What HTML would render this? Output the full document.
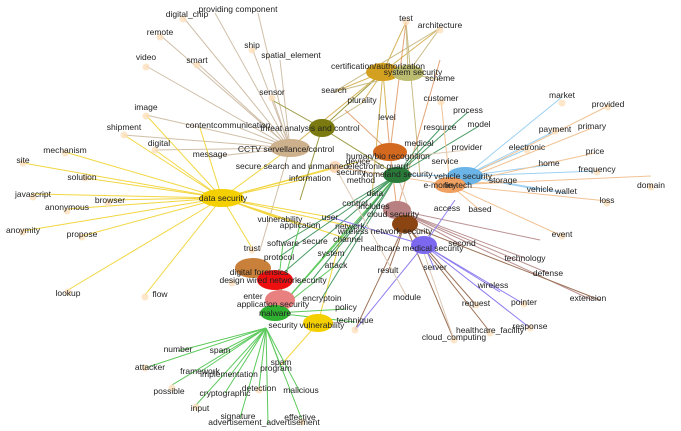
<!DOCTYPE html>
<html><head><meta charset="utf-8"><style>
html,body{margin:0;padding:0;background:#fff;width:681px;height:431px;overflow:hidden}
svg text{font-family:"Liberation Sans",sans-serif;font-size:8.5px;fill:#222;text-anchor:middle}
</style></head><body>
<svg width="681" height="431" viewBox="0 0 681 431" xmlns="http://www.w3.org/2000/svg">
<g stroke-width="1" fill="none" opacity="0.85">
<!-- CCTV edges -->
<g stroke="#c8b49a">
<line x1="290" y1="148" x2="183" y2="17"/><line x1="290" y1="148" x2="215" y2="13"/><line x1="290" y1="148" x2="258" y2="13"/>
<line x1="290" y1="148" x2="160" y2="35"/><line x1="290" y1="148" x2="252" y2="48"/><line x1="290" y1="148" x2="146" y2="66"/>
<line x1="290" y1="148" x2="197" y2="63"/><line x1="290" y1="148" x2="146" y2="115"/><line x1="290" y1="148" x2="124" y2="135"/>
<line x1="290" y1="148" x2="155" y2="150"/><line x1="290" y1="148" x2="240" y2="128"/><line x1="290" y1="148" x2="210" y2="157"/>
<line x1="290" y1="148" x2="272" y2="96"/><line x1="290" y1="148" x2="280" y2="60"/><line x1="290" y1="148" x2="260" y2="250"/>
</g>
<!-- data security edges -->
<g stroke="#f0d020">
<line x1="222" y1="198" x2="146" y2="115"/><line x1="222" y1="198" x2="124" y2="135"/><line x1="222" y1="198" x2="155" y2="150"/>
<line x1="222" y1="198" x2="65" y2="152"/><line x1="222" y1="198" x2="23" y2="163"/><line x1="222" y1="198" x2="85" y2="178"/>
<line x1="222" y1="198" x2="33" y2="194"/><line x1="222" y1="198" x2="108" y2="200"/><line x1="222" y1="198" x2="67" y2="209"/>
<line x1="222" y1="198" x2="23" y2="231"/><line x1="222" y1="198" x2="82" y2="236"/><line x1="222" y1="198" x2="68" y2="290"/>
<line x1="222" y1="198" x2="145" y2="295"/><line x1="222" y1="198" x2="200" y2="128"/><line x1="222" y1="198" x2="310" y2="178"/>
<line x1="222" y1="198" x2="335" y2="167"/><line x1="222" y1="198" x2="280" y2="219"/><line x1="222" y1="198" x2="300" y2="225"/>
<line x1="222" y1="198" x2="252" y2="248"/><line x1="222" y1="198" x2="330" y2="217"/><line x1="222" y1="198" x2="350" y2="226"/>
<line x1="222" y1="198" x2="348" y2="239"/><line x1="222" y1="198" x2="358" y2="162"/><line x1="222" y1="198" x2="290" y2="148"/>
<line x1="318" y1="323" x2="281" y2="365"/><line x1="318" y1="323" x2="340" y2="240"/>
</g>
<!-- threat / cert -->
<g stroke="#8a8a20"><line x1="322" y1="128" x2="272" y2="100"/><line x1="322" y1="128" x2="383" y2="72"/><line x1="322" y1="128" x2="397" y2="175"/><line x1="322" y1="128" x2="300" y2="200"/></g>
<g stroke="#d0a840"><line x1="383" y1="72" x2="406" y2="22"/><line x1="383" y1="72" x2="440" y2="28"/><line x1="383" y1="72" x2="334" y2="92"/>
<line x1="383" y1="72" x2="362" y2="103"/><line x1="383" y1="72" x2="290" y2="148"/><line x1="383" y1="72" x2="387" y2="120"/><line x1="383" y1="72" x2="372" y2="195"/></g>
<g stroke="#c0b070"><line x1="408" y1="73" x2="406" y2="22"/><line x1="408" y1="73" x2="440" y2="28"/><line x1="408" y1="73" x2="440" y2="80"/>
<line x1="408" y1="73" x2="334" y2="92"/><line x1="334" y1="92" x2="440" y2="28"/><line x1="406" y1="22" x2="420" y2="175"/><line x1="362" y1="103" x2="322" y2="128"/></g>
<!-- human/bio -->
<g stroke="#d2691e" opacity="0.7"><line x1="390" y1="152" x2="387" y2="120"/><line x1="390" y1="152" x2="406" y2="22"/><line x1="390" y1="152" x2="397" y2="210"/><line x1="390" y1="152" x2="345" y2="110"/><line x1="397" y1="210" x2="440" y2="60"/></g>
<!-- homeland green -->
<g stroke="#2a8a4a"><line x1="397" y1="175" x2="468" y2="112"/><line x1="397" y1="175" x2="479" y2="126"/><line x1="397" y1="175" x2="440" y2="129"/>
<line x1="397" y1="175" x2="419" y2="145"/><line x1="397" y1="175" x2="283" y2="243"/><line x1="397" y1="175" x2="279" y2="257"/>
<line x1="397" y1="175" x2="331" y2="253"/><line x1="397" y1="175" x2="336" y2="265"/><line x1="397" y1="175" x2="275" y2="280"/>
<line x1="397" y1="175" x2="322" y2="298"/><line x1="397" y1="175" x2="372" y2="195"/><line x1="397" y1="175" x2="312" y2="280"/></g>
<g stroke="#40c040"><line x1="275" y1="313" x2="397" y2="175"/><line x1="275" y1="313" x2="283" y2="243"/><line x1="275" y1="313" x2="300" y2="225"/>
<line x1="275" y1="313" x2="346" y2="309"/><line x1="275" y1="313" x2="355" y2="322"/><line x1="275" y1="313" x2="336" y2="265"/><line x1="275" y1="313" x2="350" y2="226"/>
<line x1="266" y1="328" x2="178" y2="351"/><line x1="266" y1="328" x2="220" y2="352"/><line x1="266" y1="328" x2="145" y2="368"/>
<line x1="266" y1="328" x2="200" y2="372"/><line x1="266" y1="328" x2="172" y2="385"/><line x1="266" y1="328" x2="229" y2="377"/>
<line x1="266" y1="328" x2="225" y2="393"/><line x1="266" y1="328" x2="196" y2="405"/><line x1="266" y1="328" x2="259" y2="388"/>
<line x1="266" y1="328" x2="240" y2="418"/><line x1="266" y1="328" x2="268" y2="424"/><line x1="266" y1="328" x2="302" y2="420"/>
<line x1="266" y1="328" x2="300" y2="392"/><line x1="266" y1="328" x2="282" y2="370"/></g>
<!-- vehicle / fintech -->
<g stroke="#8cc8f0"><line x1="465" y1="176" x2="562" y2="97"/><line x1="465" y1="176" x2="555" y2="131"/><line x1="465" y1="176" x2="527" y2="149"/>
<line x1="465" y1="176" x2="549" y2="165"/><line x1="465" y1="176" x2="597" y2="171"/><line x1="465" y1="176" x2="566" y2="193"/>
<line x1="465" y1="176" x2="540" y2="190"/><line x1="465" y1="176" x2="397" y2="175"/></g>
<g stroke="#f0b880"><line x1="450" y1="185" x2="608" y2="106"/><line x1="450" y1="185" x2="592" y2="128"/><line x1="450" y1="185" x2="595" y2="153"/>
<line x1="450" y1="185" x2="651" y2="176"/><line x1="450" y1="185" x2="607" y2="201"/><line x1="450" y1="185" x2="503" y2="181"/>
<line x1="450" y1="185" x2="562" y2="236"/><line x1="450" y1="185" x2="441" y2="100"/><line x1="450" y1="185" x2="480" y2="210"/><line x1="450" y1="185" x2="335" y2="167"/></g>
<!-- cloud / wireless / medical -->
<g stroke="#b08080"><line x1="397" y1="210" x2="525" y2="258"/><line x1="397" y1="210" x2="548" y2="273"/><line x1="397" y1="210" x2="592" y2="300"/>
<line x1="397" y1="210" x2="462" y2="245"/><line x1="397" y1="210" x2="540" y2="240"/></g>
<g stroke="#8b5a3a"><line x1="405" y1="224" x2="388" y2="272"/><line x1="405" y1="224" x2="476" y2="305"/><line x1="405" y1="224" x2="490" y2="332"/>
<line x1="405" y1="224" x2="454" y2="340"/><line x1="405" y1="224" x2="355" y2="330"/><line x1="405" y1="224" x2="600" y2="300"/></g>
<g stroke="#7b68ee"><line x1="424" y1="245" x2="435" y2="270"/><line x1="424" y1="245" x2="500" y2="292"/><line x1="424" y1="245" x2="524" y2="304"/>
<line x1="424" y1="245" x2="530" y2="328"/><line x1="424" y1="245" x2="355" y2="330"/><line x1="424" y1="245" x2="330" y2="217"/><line x1="424" y1="245" x2="455" y2="200"/></g>
<g stroke="#d8c0a8"><line x1="397" y1="175" x2="454" y2="340"/><line x1="335" y1="167" x2="407" y2="297"/><line x1="358" y1="162" x2="467" y2="150"/></g>
</g>
<!-- leaf dots -->
<g fill="#fde0bc" opacity="0.8">
<circle cx="183" cy="19" r="3.5"/><circle cx="160" cy="37" r="3.5"/><circle cx="252" cy="50" r="3.5"/><circle cx="146" cy="67" r="3.5"/><circle cx="197" cy="65" r="3.5"/>
<circle cx="272" cy="98" r="3.5"/><circle cx="146" cy="116" r="3.5"/><circle cx="124" cy="135" r="3.5"/><circle cx="155" cy="150" r="3.5"/><circle cx="65" cy="153" r="3.5"/>
<circle cx="23" cy="163" r="3.5"/><circle cx="85" cy="178" r="3.5"/><circle cx="33" cy="197" r="3.5"/><circle cx="108" cy="203" r="3.5"/><circle cx="67" cy="211" r="3.5"/>
<circle cx="23" cy="232" r="3.5"/><circle cx="82" cy="237" r="3.5"/><circle cx="68" cy="292" r="3.5"/><circle cx="145" cy="297" r="3.5"/><circle cx="406" cy="22" r="3.5"/>
<circle cx="440" cy="30" r="3.5"/><circle cx="441" cy="102" r="3.5"/><circle cx="562" cy="103" r="3.5"/><circle cx="608" cy="107" r="3.5"/><circle cx="555" cy="131" r="3.5"/>
<circle cx="527" cy="150" r="3.5"/><circle cx="597" cy="172" r="3.5"/><circle cx="651" cy="187" r="3.5"/><circle cx="607" cy="203" r="3.5"/><circle cx="562" cy="236" r="3.5"/>
<circle cx="335" cy="167" r="6" fill="#f8cfa8"/><circle cx="252" cy="250" r="3.5"/><circle cx="232" cy="283" r="3.5"/><circle cx="145" cy="368" r="3.5"/>
<circle cx="196" cy="407" r="3.5"/><circle cx="172" cy="388" r="3.5"/><circle cx="259" cy="390" r="3.5"/><circle cx="302" cy="422" r="3.5"/><circle cx="454" cy="340" r="3.5"/>
<circle cx="490" cy="333" r="3.5"/><circle cx="524" cy="304" r="3.5"/><circle cx="530" cy="328" r="3.5"/><circle cx="476" cy="305" r="3.5"/><circle cx="355" cy="330" r="3.5"/>
</g>
<!-- hubs -->
<ellipse cx="222" cy="198" rx="22" ry="9" fill="#f5d000"/>
<ellipse cx="290" cy="148" rx="20" ry="9" fill="#cdb08c"/>
<ellipse cx="322" cy="128" rx="13" ry="9" fill="#7a7a10"/>
<ellipse cx="383" cy="72" rx="17" ry="9" fill="#d4a020"/>
<ellipse cx="408" cy="73" rx="16" ry="8" fill="#bcbc70"/>
<ellipse cx="390" cy="152" rx="17" ry="9" fill="#d2691e"/>
<ellipse cx="397" cy="175" rx="14" ry="8" fill="#2a7a3a"/>
<ellipse cx="465" cy="176" rx="18" ry="9" fill="#6ab4e8"/>
<ellipse cx="450" cy="185" rx="16" ry="8" fill="#f0a060"/>
<ellipse cx="397" cy="210" rx="14" ry="9" fill="#b88080"/>
<ellipse cx="405" cy="224" rx="13" ry="9" fill="#8b4513"/>
<ellipse cx="424" cy="245" rx="13" ry="9" fill="#7b68ee"/>
<ellipse cx="253" cy="268" rx="18" ry="10" fill="#c8803a"/>
<ellipse cx="275" cy="280" rx="18" ry="10" fill="#ee1010"/>
<ellipse cx="280" cy="300" rx="15" ry="10" fill="#e88080"/>
<ellipse cx="275" cy="313" rx="15" ry="8" fill="#30b030"/>
<ellipse cx="318" cy="323" rx="15" ry="9" fill="#f5d000"/>
<!-- labels -->
<g>
<text x="187" y="17">digital_chip</text><text x="238" y="12">providing component</text><text x="160" y="35">remote</text>
<text x="252" y="48">ship</text><text x="146" y="60">video</text><text x="197" y="63">smart</text><text x="291" y="58">spatial_element</text>
<text x="272" y="95">sensor</text><text x="146" y="110">image</text><text x="124" y="130">shipment</text><text x="228" y="128">contentcommunication</text>
<text x="310" y="131">threat analysis and control</text><text x="159" y="146">digital</text><text x="210" y="157">message</text>
<text x="286" y="152">CCTV servellance/control</text><text x="65" y="153">mechanism</text><text x="23" y="163">site</text>
<text x="82" y="180">solution</text><text x="292" y="169">secure search and unmanned</text><text x="310" y="181">information</text>
<text x="33" y="197">javascript</text><text x="110" y="203">browser</text><text x="67" y="210">anonymous</text><text x="223" y="201">data security</text>
<text x="23" y="233">anoymity</text><text x="82" y="237">propose</text><text x="68" y="296">lookup</text><text x="160" y="297">flow</text>
<text x="280" y="222">vulnerability</text><text x="300" y="228">application</text><text x="252" y="251">trust</text><text x="283" y="246">software</text>
<text x="315" y="244">secure</text><text x="279" y="260">protocol</text><text x="331" y="256">system</text><text x="336" y="268">attack</text>
<text x="259" y="275">digital forensics</text><text x="273" y="283">wired network</text><text x="312" y="283">security</text><text x="232" y="283">design</text>
<text x="253" y="299">enter</text><text x="273" y="307" font-size="7">application security</text><text x="275" y="316">malware</text>
<text x="322" y="301">encryptoin</text><text x="346" y="310">policy</text><text x="355" y="323">technique</text>
<text x="283" y="328">security</text><text x="322" y="328">vulnerability</text><text x="178" y="352">number</text><text x="220" y="353">spam</text>
<text x="150" y="370">attacker</text><text x="200" y="374">framework</text><text x="229" y="377">implementation</text><text x="281" y="365">spam</text>
<text x="276" y="371">program</text><text x="169" y="394">possible</text><text x="259" y="391">detection</text><text x="301" y="393">malicious</text>
<text x="225" y="396">cryptographic</text><text x="200" y="411">input</text><text x="238" y="419">signature</text>
<text x="264" y="425">advertisement_advertisement</text><text x="300" y="420">effective</text>
<text x="406" y="21">test</text><text x="440" y="28">architecture</text><text x="378" y="69">certification/authorization</text>
<text x="413" y="75">system security</text><text x="440" y="81">scheme</text><text x="334" y="93">search</text><text x="441" y="101">customer</text>
<text x="362" y="103">plurality</text><text x="468" y="113">process</text><text x="562" y="98">market</text><text x="608" y="107">provided</text>
<text x="387" y="120">level</text><text x="440" y="130">resource</text><text x="479" y="127">model</text><text x="555" y="132">payment</text>
<text x="592" y="129">primary</text><text x="419" y="146">medical</text><text x="467" y="150">provider</text><text x="527" y="150">electronic</text>
<text x="595" y="154">price</text><text x="388" y="159">human/bio recognition</text><text x="445" y="164">service</text><text x="549" y="166">home</text>
<text x="597" y="172">frequency</text><text x="358" y="164">device</text><text x="378" y="169">electronic guard</text><text x="351" y="175">security</text>
<text x="361" y="183">method</text><text x="398" y="177" font-size="6.5">homeland security</text><text x="463" y="179">vehicle security</text>
<text x="440" y="188">e-money</text><text x="458" y="188">fin-tech</text><text x="503" y="183">storage</text><text x="540" y="192">vehicle</text>
<text x="566" y="194">wallet</text><text x="607" y="203">loss</text><text x="651" y="188">domain</text><text x="375" y="196">data</text>
<text x="355" y="206">control</text><text x="374" y="209">includes</text><text x="393" y="217">cloud security</text><text x="447" y="211">access</text>
<text x="480" y="212">based</text><text x="330" y="220">user</text><text x="350" y="229">network</text><text x="348" y="242">channel</text>
<text x="562" y="237">event</text><text x="385" y="234">wireless network security</text><text x="462" y="246">second</text>
<text x="412" y="251">healthcare medical security</text><text x="525" y="261">technology</text><text x="388" y="273">result</text>
<text x="435" y="270">server</text><text x="548" y="276">defense</text><text x="493" y="288">wireless</text><text x="407" y="300">module</text>
<text x="588" y="301">extension</text><text x="476" y="306">request</text><text x="524" y="305">pointer</text>
<text x="490" y="333">healthcare_facility</text><text x="530" y="329">response</text><text x="454" y="340">cloud_computing</text>
</g>
</svg>
</body></html>
